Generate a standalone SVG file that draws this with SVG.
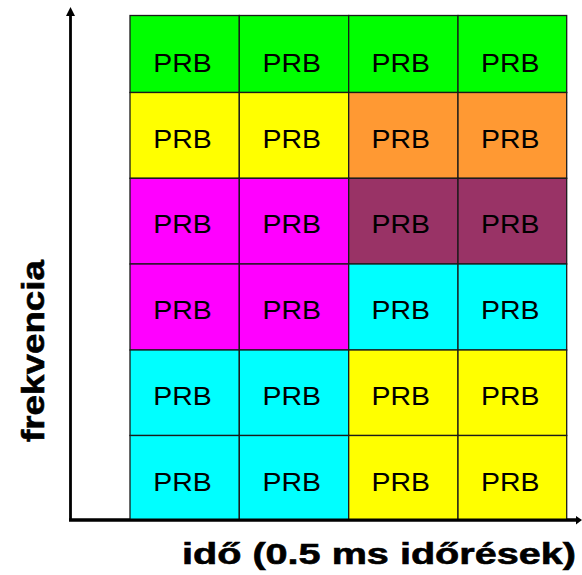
<svg xmlns="http://www.w3.org/2000/svg" width="582" height="575" viewBox="0 0 582 575">
  <style>
    .cell { stroke: #1a1a1a; stroke-width: 1.3; }
    .prb { font-family: "Liberation Sans", Arial, sans-serif; font-size: 25.5px; fill: #000; text-anchor: middle; }
    .axis { stroke: #000; stroke-width: 2.8; fill: none; }
    .label { font-family: "Liberation Sans", Arial, sans-serif; font-weight: bold; fill: #000; stroke: #000; stroke-width: 0.6; }
    .g { fill: #00FF00; }
    .y { fill: #FFFF00; }
    .o { fill: #FF9933; }
    .m { fill: #FF00FF; }
    .p { fill: #993366; }
    .c { fill: #00FFFF; }
  </style>

  <rect width="582" height="575" fill="#fff"/>

  <!-- axes -->
  <g id="connectors">
    <path class="axis" d="M70.5,521 L70.5,15"/>
    <polygon points="70.5,7 66,16 75,16" fill="#000"/>
    <path class="axis" d="M69,520 L576,520"/>
    <polygon points="582,520 576,516 576,524.5" fill="#000"/>
  </g>

  <!-- row 1 -->
  <g id="r1c1"><rect class="cell g" x="130" y="15.5" width="109.3" height="77"/><text class="prb" x="182.5" y="71.7" textLength="58.5" lengthAdjust="spacingAndGlyphs">PRB</text></g>
  <g id="r1c2"><rect class="cell g" x="239.3" y="15.5" width="109.4" height="77"/><text class="prb" x="291.8" y="71.7" textLength="58.5" lengthAdjust="spacingAndGlyphs">PRB</text></g>
  <g id="r1c3"><rect class="cell g" x="348.7" y="15.5" width="109.3" height="77"/><text class="prb" x="400.8" y="71.7" textLength="58.5" lengthAdjust="spacingAndGlyphs">PRB</text></g>
  <g id="r1c4"><rect class="cell g" x="458" y="15.5" width="108.7" height="77"/><text class="prb" x="510.2" y="71.7" textLength="58.5" lengthAdjust="spacingAndGlyphs">PRB</text></g>

  <!-- row 2 -->
  <g id="r2c1"><rect class="cell y" x="130" y="92.5" width="109.3" height="85.8"/><text class="prb" x="182.5" y="148.3" textLength="58.5" lengthAdjust="spacingAndGlyphs">PRB</text></g>
  <g id="r2c2"><rect class="cell y" x="239.3" y="92.5" width="109.4" height="85.8"/><text class="prb" x="291.8" y="148.3" textLength="58.5" lengthAdjust="spacingAndGlyphs">PRB</text></g>
  <g id="r2c3"><rect class="cell o" x="348.7" y="92.5" width="109.3" height="85.8"/><text class="prb" x="400.8" y="148.3" textLength="58.5" lengthAdjust="spacingAndGlyphs">PRB</text></g>
  <g id="r2c4"><rect class="cell o" x="458" y="92.5" width="108.7" height="85.8"/><text class="prb" x="510.2" y="148.3" textLength="58.5" lengthAdjust="spacingAndGlyphs">PRB</text></g>

  <!-- row 3 -->
  <g id="r3c1"><rect class="cell m" x="130" y="178.3" width="109.3" height="85.7"/><text class="prb" x="182.5" y="232.9" textLength="58.5" lengthAdjust="spacingAndGlyphs">PRB</text></g>
  <g id="r3c2"><rect class="cell m" x="239.3" y="178.3" width="109.4" height="85.7"/><text class="prb" x="291.8" y="232.9" textLength="58.5" lengthAdjust="spacingAndGlyphs">PRB</text></g>
  <g id="r3c3"><rect class="cell p" x="348.7" y="178.3" width="109.3" height="85.7"/><text class="prb" x="400.8" y="232.9" textLength="58.5" lengthAdjust="spacingAndGlyphs">PRB</text></g>
  <g id="r3c4"><rect class="cell p" x="458" y="178.3" width="108.7" height="85.7"/><text class="prb" x="510.2" y="232.9" textLength="58.5" lengthAdjust="spacingAndGlyphs">PRB</text></g>

  <!-- row 4 -->
  <g id="r4c1"><rect class="cell m" x="130" y="264" width="109.3" height="86"/><text class="prb" x="182.5" y="319.3" textLength="58.5" lengthAdjust="spacingAndGlyphs">PRB</text></g>
  <g id="r4c2"><rect class="cell m" x="239.3" y="264" width="109.4" height="86"/><text class="prb" x="291.8" y="319.3" textLength="58.5" lengthAdjust="spacingAndGlyphs">PRB</text></g>
  <g id="r4c3"><rect class="cell c" x="348.7" y="264" width="109.3" height="86"/><text class="prb" x="400.8" y="319.3" textLength="58.5" lengthAdjust="spacingAndGlyphs">PRB</text></g>
  <g id="r4c4"><rect class="cell c" x="458" y="264" width="108.7" height="86"/><text class="prb" x="510.2" y="319.3" textLength="58.5" lengthAdjust="spacingAndGlyphs">PRB</text></g>

  <!-- row 5 -->
  <g id="r5c1"><rect class="cell c" x="130" y="350" width="109.3" height="85.5"/><text class="prb" x="182.5" y="405" textLength="58.5" lengthAdjust="spacingAndGlyphs">PRB</text></g>
  <g id="r5c2"><rect class="cell c" x="239.3" y="350" width="109.4" height="85.5"/><text class="prb" x="291.8" y="405" textLength="58.5" lengthAdjust="spacingAndGlyphs">PRB</text></g>
  <g id="r5c3"><rect class="cell y" x="348.7" y="350" width="109.3" height="85.5"/><text class="prb" x="400.8" y="405" textLength="58.5" lengthAdjust="spacingAndGlyphs">PRB</text></g>
  <g id="r5c4"><rect class="cell y" x="458" y="350" width="108.7" height="85.5"/><text class="prb" x="510.2" y="405" textLength="58.5" lengthAdjust="spacingAndGlyphs">PRB</text></g>

  <!-- row 6 -->
  <g id="r6c1"><rect class="cell c" x="130" y="435.5" width="109.3" height="84.5"/><text class="prb" x="182.5" y="491" textLength="58.5" lengthAdjust="spacingAndGlyphs">PRB</text></g>
  <g id="r6c2"><rect class="cell c" x="239.3" y="435.5" width="109.4" height="84.5"/><text class="prb" x="291.8" y="491" textLength="58.5" lengthAdjust="spacingAndGlyphs">PRB</text></g>
  <g id="r6c3"><rect class="cell y" x="348.7" y="435.5" width="109.3" height="84.5"/><text class="prb" x="400.8" y="491" textLength="58.5" lengthAdjust="spacingAndGlyphs">PRB</text></g>
  <g id="r6c4"><rect class="cell y" x="458" y="435.5" width="108.7" height="84.5"/><text class="prb" x="510.2" y="491" textLength="58.5" lengthAdjust="spacingAndGlyphs">PRB</text></g>

  <!-- axis redrawn over the grid bottom edge -->
  <path class="axis" d="M69,520 L576,520"/>

  <!-- axis labels -->
  <g id="y-label">
    <text class="label" transform="translate(43.5,442) rotate(-90)" x="0" y="0" font-size="32" textLength="182" lengthAdjust="spacingAndGlyphs">frekvencia</text>
  </g>
  <g id="x-label">
    <text class="label" x="182" y="564" font-size="30" textLength="394" lengthAdjust="spacingAndGlyphs">idő (0.5 ms időrések)</text>
  </g>
</svg>
